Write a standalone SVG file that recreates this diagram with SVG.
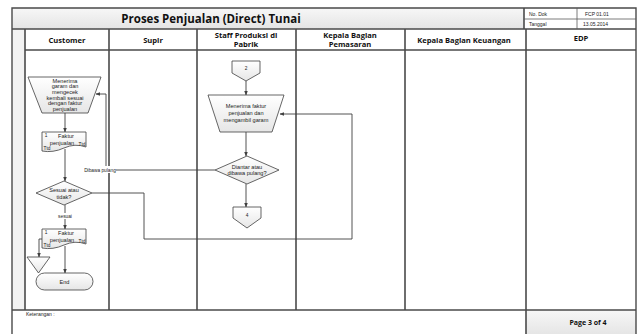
<svg xmlns="http://www.w3.org/2000/svg" width="641" height="334" viewBox="0 0 641 334">
  <defs>
    <linearGradient id="shapeFill" x1="0" y1="0" x2="0" y2="1">
      <stop offset="0" stop-color="#ffffff"/>
      <stop offset="1" stop-color="#e6e6e6"/>
    </linearGradient>
    <linearGradient id="bandFill" x1="0" y1="0" x2="0" y2="1">
      <stop offset="0" stop-color="#f7f7f7"/>
      <stop offset="1" stop-color="#e4e4e4"/>
    </linearGradient>
    <marker id="arrow" viewBox="0 0 10 10" refX="9" refY="5" markerWidth="5" markerHeight="5" orient="auto">
      <path d="M0,1 L10,5 L0,9 Z" fill="#404040"/>
    </marker>
    <style>
      .frame { fill: none; stroke: #4a4a4a; stroke-width: 1.4; }
      .lane { stroke: #4a4a4a; stroke-width: 1.6; }
      .thin { stroke: #5a5a5a; stroke-width: 0.8; fill: none; }
      .shape { fill: url(#shapeFill); stroke: #404040; stroke-width: 0.8; }
      .conn { fill: none; stroke: #404040; stroke-width: 0.9; marker-end: url(#arrow); }
      .title { font-family: "Open Sans", "Liberation Sans", sans-serif; font-weight: bold; font-size: 11.5px; fill: #111; text-anchor: middle; }
      .head { font-family: "Open Sans", "Liberation Sans", sans-serif; font-weight: bold; font-size: 7.6px; fill: #111; text-anchor: middle; }
      .meta { font-family: "Liberation Sans", sans-serif; font-size: 5px; fill: #222; }
      .small { font-family: "Liberation Sans", sans-serif; font-size: 5.6px; fill: #222; text-anchor: middle; }
      .tiny { font-family: "Liberation Sans", sans-serif; font-size: 4.8px; fill: #222; text-anchor: middle; }
      .note { font-family: "Liberation Sans", sans-serif; font-size: 5px; fill: #222; }
      .page { font-family: "Open Sans", "Liberation Sans", sans-serif; font-weight: bold; font-size: 7px; fill: #111; text-anchor: middle; }
    </style>
  </defs>

  <rect width="641" height="334" fill="#ffffff"/>

  <!-- form frame: title band, lane headers, lanes, footer -->
  <g id="frame">
    <rect x="12" y="8" width="512" height="21" fill="url(#bandFill)"/>
    <rect x="12" y="29" width="13" height="281" fill="#f2f2f2"/>
    <rect x="526" y="310" width="110" height="26" fill="url(#bandFill)"/>
    <path class="frame" d="M12,336 V8 H636 V336"/>
    <line class="lane" x1="12" y1="29" x2="636" y2="29"/>
    <line class="lane" x1="25" y1="50" x2="636" y2="50"/>
    <line class="lane" x1="12" y1="310" x2="636" y2="310"/>
    <line class="lane" x1="524" y1="8" x2="524" y2="29"/>
    <line class="thin" x1="577" y1="8" x2="577" y2="29"/>
    <line class="thin" x1="524" y1="19" x2="636" y2="19"/>
    <line class="lane" x1="25" y1="29" x2="25" y2="310"/>
    <line class="lane" x1="109" y1="29" x2="109" y2="310"/>
    <line class="lane" x1="197" y1="29" x2="197" y2="310"/>
    <line class="lane" x1="296" y1="29" x2="296" y2="310"/>
    <line class="lane" x1="405" y1="29" x2="405" y2="310"/>
    <line class="lane" x1="526" y1="29" x2="526" y2="336"/>

    <text class="title" x="211" y="23">Proses Penjualan (Direct) Tunai</text>
    <text class="meta" x="529" y="16">No. Dok</text>
    <text class="meta" x="585" y="16">FCP 01.01</text>
    <text class="meta" x="529" y="26">Tanggal</text>
    <text class="meta" x="583" y="26">13.05.2014</text>

    <text class="head" x="67" y="43">Customer</text>
    <text class="head" x="153" y="43">Supir</text>
    <text class="head" x="246" y="38">Staff Produksi di</text>
    <text class="head" x="246" y="47">Pabrik</text>
    <text class="head" x="350" y="38">Kepala Bagian</text>
    <text class="head" x="350" y="47">Pemasaran</text>
    <text class="head" x="464" y="43">Kepala Bagian Keuangan</text>
    <text class="head" x="581" y="41">EDP</text>

    <text class="note" x="26" y="316">Keterangan :</text>
    <text class="page" x="588" y="325">Page 3 of 4</text>
  </g>

  <!-- connectors -->
  <g id="connectors">
    <line class="conn" x1="65" y1="113" x2="65" y2="132"/>
    <line class="conn" x1="65" y1="149" x2="65" y2="181"/>
    <line class="conn" x1="65" y1="205" x2="65" y2="229"/>
    <polyline class="conn" points="42,239 39,239 39,257"/>
    <line class="conn" x1="65" y1="246" x2="65" y2="273"/>
    <polyline class="conn" points="92,193 144,193 144,239 352,239 352,114 280,114"/>
    <line class="conn" x1="246" y1="81" x2="246" y2="95"/>
    <line class="conn" x1="246" y1="132" x2="246" y2="156"/>
    <line class="conn" x1="246" y1="184" x2="246" y2="207"/>
    <polyline class="conn" points="215,170 106,170 106,94 96,94"/>
    <rect x="84" y="166" width="32" height="7" fill="#ffffff"/>
    <text class="tiny" x="100" y="171.7">Dibawa pulang</text>
    <rect x="55" y="213" width="20" height="6" fill="#ffffff"/>
    <text class="tiny" x="65" y="217.7">sesuai</text>
  </g>

  <!-- Customer lane -->
  <g id="customer-terima-garam">
    <polygon class="shape" points="28,77 101,77 88,113 42,113"/>
    <text class="small" x="65" y="82.5">Menerima</text>
    <text class="small" x="65" y="88.3">garam dan</text>
    <text class="small" x="65" y="94">mengecek</text>
    <text class="small" x="65" y="99.7">kembali sesuai</text>
    <text class="small" x="65" y="105.4">dengan faktur</text>
    <text class="small" x="65" y="111">penjualan</text>
  </g>

  <g id="customer-faktur-1">
    <path class="shape" d="M42,132 H86 V147 Q75,143 64,148 T42,151 Z"/>
    <text class="tiny" x="46" y="137">1</text>
    <text class="small" x="66" y="138">Faktur</text>
    <text class="small" x="62" y="144.5">penjualan</text>
    <text class="tiny" x="82" y="146">Ttd</text>
    <text class="tiny" x="47" y="149.5">Ttd</text>
  </g>

  <g id="customer-sesuai">
    <polygon class="shape" points="64,181 92,193 64,205 36,193"/>
    <text class="small" x="64" y="192">Sesuai atau</text>
    <text class="small" x="64" y="198.5">tidak?</text>
  </g>

  <g id="customer-faktur-2">
    <path class="shape" d="M42,229 H86 V244 Q75,240 64,245 T42,248 Z"/>
    <text class="tiny" x="46" y="234">1</text>
    <text class="small" x="66" y="235">Faktur</text>
    <text class="small" x="62" y="241.5">penjualan</text>
    <text class="tiny" x="82" y="243">Ttd</text>
    <text class="tiny" x="47" y="246.5">Ttd</text>
  </g>

  <g id="customer-arsip">
    <polygon class="shape" points="27,257 50,257 38.5,273"/>
  </g>

  <g id="customer-end">
    <rect class="shape" x="36" y="273" width="57" height="17" rx="8.5" ry="8.5"/>
    <text class="small" x="64.5" y="283.5">End</text>
  </g>

  <!-- Staff Produksi lane -->
  <g id="staff-connector-2">
    <polygon class="shape" points="232,61 260,61 260,73 246,81 232,73"/>
    <text class="tiny" x="246" y="69.5">2</text>
  </g>

  <g id="staff-terima-faktur">
    <polygon class="shape" points="208,95 284,95 272,132 220,132"/>
    <text class="small" x="246" y="108">Menerima faktur</text>
    <text class="small" x="246" y="115">penjualan dan</text>
    <text class="small" x="246" y="122">mengambil garam</text>
  </g>

  <g id="staff-diantar">
    <polygon class="shape" points="247,156 279,170 247,184 215,170"/>
    <text class="small" x="247" y="168.5">Diantar atau</text>
    <text class="small" x="247" y="174.5">dibawa pulang?</text>
  </g>

  <g id="staff-connector-4">
    <polygon class="shape" points="233,207 261,207 261,218 247,228 233,218"/>
    <text class="tiny" x="247" y="216.5">4</text>
  </g>
</svg>
